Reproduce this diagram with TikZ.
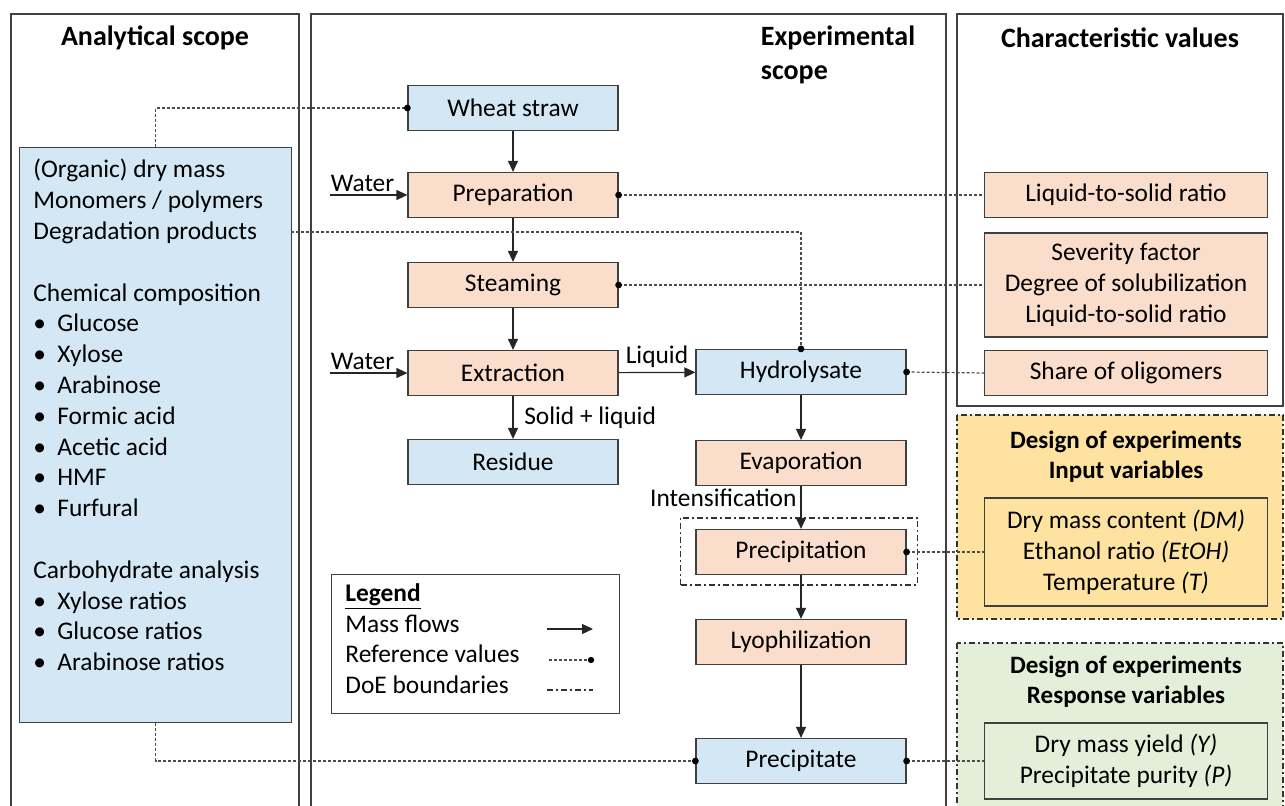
\documentclass[tikz,border=0pt]{standalone}
\usepackage{fontspec}
\setmainfont{Carlito}
\usetikzlibrary{arrows.meta,positioning}
\definecolor{framegray}{HTML}{404040}
\definecolor{strmblue}{HTML}{D3E8F4}
\definecolor{procred}{HTML}{FBDDCC}
\definecolor{doeyellow}{HTML}{FDE2A0}
\definecolor{doegreen}{HTML}{E3EFD9}
\newcommand{\bul}{\makebox[12pt][l]{\textbullet}}

\begin{document}
\begin{tikzpicture}[x=0.5pt,y=-0.5pt,
  font=\fontsize{12.7}{15.4}\selectfont,
  panel/.style={draw=framegray, line width=0.85pt},
  title/.style={font=\fontsize{14}{17}\selectfont\bfseries},
  subtitle/.style={font=\fontsize{12.5}{15}\selectfont\bfseries, align=center},
  box/.style={draw=framegray, line width=0.6pt, minimum width=105pt, minimum height=22.5pt, inner sep=0pt},
  strm/.style={box, fill=strmblue},
  proc/.style={box, fill=procred},
  valbox/.style={box, minimum width=141.5pt, align=center},
  flow/.style={-{Triangle[length=5.5pt,width=5pt]}, line width=0.6pt, draw=black!85},
  refval/.style={draw=black!70, line width=0.6pt, dash pattern=on 1.5pt off 1pt},
  doe/.style={draw=black!80, line width=0.65pt, dash pattern=on 3pt off 1.5pt on 1pt off 1.5pt}
]
  \useasboundingbox (0,0) rectangle (1285,806);
  \clip (0,0) rectangle (1285,806);

  % scopes
  \draw[panel] (11,14) rectangle (299,830);
  \draw[panel] (311,14) rectangle (946,830);
  \draw[panel] (957,14) rectangle (1283,406);
  \node[title] (antitle) at (155,38) {Analytical scope};
  \node[title, align=left] (extitle) at (838,55) {Experimental\\scope};
  \node[title] (chtitle) at (1120,38) {Characteristic values};

  % analytical scope
  \node[strm, minimum width=136pt, minimum height=287.5pt, anchor=north west] (anal) at (19,147) {};
  \node[anchor=north west, align=left, inner sep=0pt] (analtext) at (33,159) {(Organic) dry mass\\Monomers / polymers\\Degradation products\\[15.4pt]
    Chemical composition\\\bul Glucose\\\bul Xylose\\\bul Arabinose\\\bul Formic acid\\\bul Acetic acid\\\bul HMF\\\bul Furfural\\[15.4pt]
    Carbohydrate analysis\\\bul Xylose ratios\\\bul Glucose ratios\\\bul Arabinose ratios};

  % experimental scope
  \node[strm] (wheat) at (513,108) {Wheat straw};
  \node[proc] (prep) at (513,195) {Preparation};
  \node[proc] (steam) at (513,285) {Steaming};
  \node[proc] (extr) at (513,373) {Extraction};
  \node[strm] (resid) at (513,462) {Residue};
  \node[strm] (hydro) at (801,372) {Hydrolysate};
  \node[proc] (evap) at (801,463) {Evaporation};
  \node[proc] (precip) at (801,552) {Precipitation};
  \node[proc] (lyo) at (801,642) {Lyophilization};
  \node[strm] (prec) at (801,761) {Precipitate};
  \draw[doe] ([shift={(-15,10)}]precip.south west) rectangle ([shift={(11,-11)}]precip.north east);

  % characteristic values
  \node[valbox, fill=procred] (lsr) at (1126,195) {Liquid-to-solid ratio};
  \node[valbox, fill=procred, minimum height=52pt] (sev) at (1126,285) {Severity factor\\Degree of solubilization\\Liquid-to-solid ratio};
  \node[valbox, fill=procred] (olig) at (1126,373) {Share of oligomers};

  % design of experiments
  \draw[doe, fill=doeyellow] (957,415) rectangle (1283,619);
  \node[subtitle] (intitle) at (1126,457) {Design of experiments\\Input variables};
  \node[valbox, fill=doeyellow, minimum height=54pt] (input) at (1126,552) {Dry mass content \textit{(DM)}\\Ethanol ratio \textit{(EtOH)}\\Temperature \textit{(T)}};
  \draw[doe, fill=doegreen] (957,643) rectangle (1283,830);
  \node[subtitle] (restitle) at (1126,682) {Design of experiments\\Response variables};
  \node[valbox, fill=doegreen, minimum height=38pt] (resp) at (1126,761) {Dry mass yield \textit{(Y)}\\Precipitate purity \textit{(P)}};

  % legend
  \node[draw=framegray, line width=0.6pt, minimum width=144pt, minimum height=69.5pt, anchor=north west, inner sep=0pt] (legend) at (331,574) {};
  \node[anchor=north west, align=left, inner sep=0pt] (legtext) at (345,583) {\underline{\textbf{Legend}}\\Mass flows\\Reference values\\DoE boundaries};
  \draw[flow] (547,629) -- (593,629);
  \draw[refval] (549,660) -- (591,660);
  \fill (591,660) circle (1.6pt);
  \draw[doe] (547,690) -- (593,690);

  % mass flows
  \coordinate (water1) at (330,195);
  \coordinate (water2) at (330,373);
  \draw[flow] (water1) -- node[pos=0.42, above, inner sep=1.5pt] {Water} (prep);
  \draw[flow] (water2) -- node[pos=0.42, above, inner sep=1.5pt] {Water} (extr);
  \draw[flow] (wheat) -- (prep);
  \draw[flow] (prep) -- (steam);
  \draw[flow] (steam) -- (extr);
  \draw[flow] (extr) -- node[right, xshift=2pt] {Solid + liquid} (resid);
  \draw[flow] (extr) -- node[above, inner sep=2pt] {Liquid} (hydro);
  \draw[flow] (hydro) -- (evap);
  \draw[flow] (evap) -- node[pos=0.27, left, inner sep=2pt] {Intensification} (precip);
  \draw[flow] (precip) -- (lyo);
  \draw[flow] (lyo) -- (prec);

  % reference values
  \coordinate (degr) at (291,232);
  \draw[refval] (anal.north) |- (wheat.west);
  \draw[refval] (degr) -| (hydro.north);
  \draw[refval] (anal.south) |- (prec.west);
  \draw[refval] (prep.east) -- (lsr.west);
  \draw[refval] (steam.east) -- (sev.west);
  \draw[refval] (hydro.east) -- (olig.west);
  \draw[refval] (precip.east) -- (input.west);
  \draw[refval] (prec.east) -- (resp.west);
  \foreach \a in {wheat.west, prep.east, steam.east, hydro.north, hydro.east, precip.east, prec.east, prec.west}
    \fill (\a) circle (1.7pt);
\end{tikzpicture}
\end{document}
